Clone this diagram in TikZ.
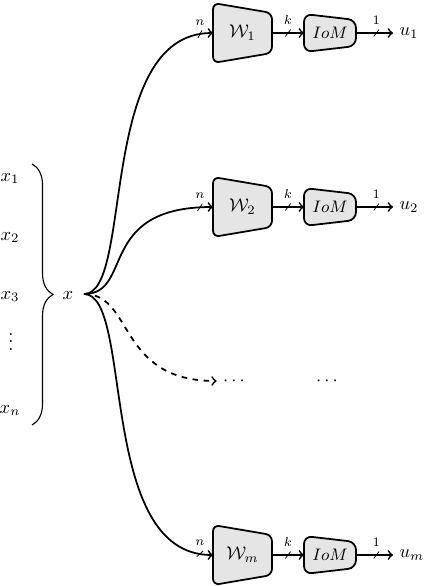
\documentclass[tikz,border=0pt]{standalone}
\usetikzlibrary{decorations.pathreplacing,decorations.markings}
\begin{document}
\begin{tikzpicture}[x=0.19mm,y=-0.19mm,
  lw/.style={line width=0.95pt},
  blk/.style={draw,lw,fill=gray!20,rounded corners=1.2mm},
  arr/.style={lw,->},
  busmark/.style 2 args={postaction={decorate,decoration={markings,
      mark=at position #1 with {\draw[-,line width=0.4pt] (-0.5mm,-0.65mm) -- (0.5mm,0.65mm);
        \node[font=\scriptsize,above=3.2pt,inner sep=1pt] {$#2$};}}}},
  wblk/.pic={
    \draw[blk] (-29.5,-30) -- (29.5,-20) -- (29.5,20) -- (-29.5,30) -- cycle;
    \node[inner sep=0pt] (-c) at (0,0) {#1};
    \coordinate (-w) at (-29.5,0);
    \coordinate (-e) at (29.5,0);
  },
  iblk/.pic={
    \draw[blk,rounded corners=1.5mm] (-26,-19) -- (26,-13) -- (26,13) -- (-26,19) -- cycle;
    \node[font=\small,inner sep=0pt] (-c) at (0,0) {$IoM$};
    \coordinate (-w) at (-26,0);
    \coordinate (-e) at (26,0);
  }]
\useasboundingbox (0,0) rectangle (428,586);

% inputs
\node[anchor=base] (x1) at (10,181) {$x_1$};
\node[anchor=base] (x2) at (10,240) {$x_2$};
\node[anchor=base] (x3) at (10,299) {$x_3$};
\node[anchor=base,text height=9pt,text depth=0pt,inner sep=0pt] (xd) at (11,350) {$\vdots$};
\node[anchor=base] (xn) at (10,413) {$x_n$};
\draw[semithick,decorate,decoration={brace,amplitude=4mm}] (32,164) -- (32,425);
\node[anchor=base] (x) at (68,299) {$x$};
\coordinate (fan) at (84,294);

% rows
\foreach \n/\y in {1/33,2/207,m/555}{
  \pic (W\n) at (242.5,\y) {wblk={$\mathcal{W}_{\n}$}};
  \pic (I\n) at (330,\y) {iblk};
  \node[anchor=west] (u\n) at (393,\y) {$u_{\n}$};
  \draw[arr,busmark={-2.5mm}{n}] (fan) .. controls +(50,0) and +(-117,0) .. (W\n-w);
  \draw[arr,busmark={0.5}{k}] (W\n-e) -- (I\n-w);
  \draw[arr,busmark={0.55}{1}] (I\n-e) -- (u\n);
}

% dashed branch
\node (d1) at (234,381) {$\cdots$};
\node (d2) at (327,381) {$\cdots$};
\draw[arr,dashed] (fan) .. controls +(50,0) and +(-117,0) .. (d1);
\end{tikzpicture}
\end{document}
